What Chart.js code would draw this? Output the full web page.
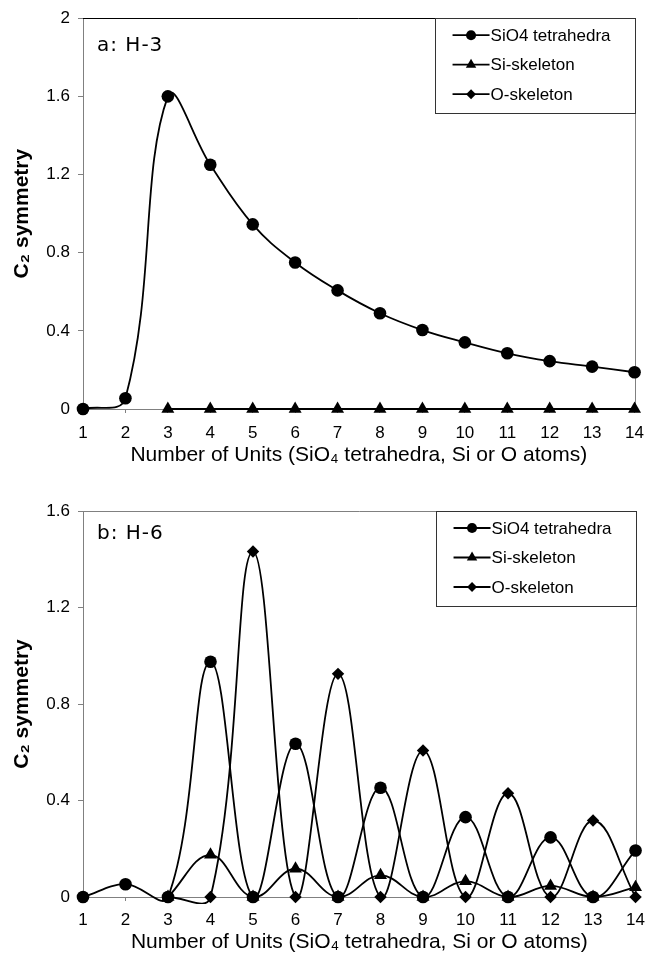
<!DOCTYPE html>
<html><head><meta charset="utf-8">
<script src="https://cdn.jsdelivr.net/npm/chart.js@4/dist/chart.umd.min.js"></script>
<style>html,body{margin:0;padding:0;background:#fff;} canvas{display:block;}</style>
</head><body>
<canvas id="ca" width="654" height="470"></canvas>
<canvas id="cb" width="654" height="484"></canvas>
<script>
// ---- data ----
const units = ['1','2','3','4','5','6','7','8','9','10','11','12','13','14'];
const seriesNames = ['SiO4 tetrahedra', 'Si-skeleton', 'O-skeleton'];
const panelA = 'a: H-3';
const panelB = 'b: H-6';
const h3SiO4 = [0, 0.055, 1.60, 1.25, 0.945, 0.75, 0.607, 0.49, 0.404, 0.341, 0.285, 0.245, 0.217, 0.188];
const h3Si   = [null, null, 0, 0, 0, 0, 0, 0, 0, 0, 0, 0, 0, 0];
const h3O    = [null, null, null, null, null, null, null, null, null, null, null, null, null, null];
const h6SiO4 = [0, 0.053, 0, 0.975, 0, 0.635, 0, 0.453, 0, 0.331, 0, 0.247, 0, 0.193];
const h6Si   = [null, null, 0, 0.175, 0, 0.117, 0, 0.09, 0, 0.065, 0, 0.046, 0, 0.04];
const h6O    = [null, null, 0, 0, 1.432, 0, 0.925, 0, 0.607, 0, 0.43, 0, 0.317, 0];
const yTicksA = [0, 0.4, 0.8, 1.2, 1.6, 2];
const yTicksB = [0, 0.4, 0.8, 1.2, 1.6];
const xTitle = 'Number of Units (SiO\u2084 tetrahedra, Si or O atoms)';
const yTitle = 'C\u2082 symmetry';

// ---- styling ----
const FONT = "'Liberation Sans', Arial, sans-serif";
const styles = [
  {pointStyle: 'circle', pointRadius: 6.3},
  {pointStyle: 'triangle', pointRadius: 7.5},
  {pointStyle: 'rectRot', pointRadius: 6.2}
];

function makeDatasets(arrs) {
  return arrs.map((d, i) => ({
    label: seriesNames[i],
    data: d,
    borderColor: '#000',
    backgroundColor: '#000',
    borderWidth: 1.8,
    pointBackgroundColor: '#000',
    pointBorderColor: '#000',
    pointBorderWidth: 0,
    pointStyle: styles[i].pointStyle,
    pointRadius: styles[i].pointRadius,
    tension: 0.4,
    capBezierPoints: false,
    spanGaps: false,
    clip: {left: 8, top: 8, right: 8, bottom: 7}
  }));
}

const decor = {
  id: 'decor',
  beforeDatasetsDraw(chart, args, opts) {
    const ctx = chart.ctx, a = chart.chartArea;
    ctx.save();
    ctx.lineWidth = 1;
    ctx.strokeStyle = opts.topColor || '#808080';
    ctx.beginPath();
    ctx.moveTo(a.left, Math.round(a.top) + 0.5);
    ctx.lineTo(a.right, Math.round(a.top) + 0.5);
    ctx.stroke();
    ctx.strokeStyle = '#808080';
    ctx.beginPath();
    ctx.moveTo(Math.round(a.right) + 0.5, a.top);
    ctx.lineTo(Math.round(a.right) + 0.5, a.bottom);
    ctx.stroke();
    // panel label
    ctx.fillStyle = '#000';
    ctx.font = "20px 'DejaVu Sans', Verdana, sans-serif";
    try { ctx.letterSpacing = '1px'; } catch (e) {}
    ctx.textBaseline = 'alphabetic';
    ctx.textAlign = 'left';
    ctx.fillText(opts.label, a.left + 14, a.top + opts.labelDy);
    ctx.restore();
  },
  afterDraw(chart, args, opts) {
    const ctx = chart.ctx, a = chart.chartArea;
    const w = 200, h = 95;
    const x0 = Math.round(a.right - w) + 0.5, y0 = Math.round(a.top) + 0.5;
    ctx.save();
    ctx.fillStyle = '#fff';
    ctx.fillRect(x0, y0, w, h);
    ctx.strokeStyle = '#333';
    ctx.lineWidth = 1;
    ctx.strokeRect(x0, y0, w, h);
    chart.data.datasets.forEach((ds, i) => {
      const y = a.top + 17 + i * 29.5;
      ctx.strokeStyle = '#000';
      ctx.lineWidth = 1.8;
      ctx.beginPath();
      ctx.moveTo(a.right - 182, y);
      ctx.lineTo(a.right - 145, y);
      ctx.stroke();
      ctx.fillStyle = '#000';
      Chart.helpers.drawPoint(ctx, {pointStyle: ds.pointStyle, radius: ds.pointRadius * 0.8, rotation: 0, borderWidth: 0}, a.right - 163.5, y);
      ctx.font = '17px ' + FONT;
      ctx.textBaseline = 'middle';
      ctx.textAlign = 'left';
      ctx.fillText(ds.label, a.right - 144, y + 1);
    });
    ctx.restore();
  }
};

function makeChart(id, arrs, yTicks, yMax, cfg) {
  return new Chart(document.getElementById(id), {
    type: 'line',
    data: {labels: units, datasets: makeDatasets(arrs)},
    plugins: [decor],
    options: {
      responsive: false,
      animation: false,
      events: [],
      layout: {padding: {left: 0, right: cfg.padRight, top: cfg.padTop, bottom: 0}},
      plugins: {
        legend: {display: false},
        tooltip: {enabled: false},
        decor: {label: cfg.label, labelDy: cfg.labelDy, topColor: cfg.topColor}
      },
      scales: {
        x: {
          type: 'category',
          offset: false,
          grid: {display: true, drawOnChartArea: false, drawTicks: true, tickLength: 4, color: '#808080'},
          border: {display: true, color: '#808080', width: 1},
          ticks: {color: '#000', font: {family: FONT, size: 17}, padding: cfg.xPad, maxRotation: 0, autoSkip: false},
          title: {display: true, text: xTitle, color: '#000', font: {family: FONT, size: 21, lineHeight: 1}, padding: {top: 0, bottom: cfg.xTitlePad}},
          afterFit: s => { s.height = cfg.xHeight; }
        },
        y: {
          type: 'linear',
          min: 0, max: yMax,
          afterBuildTicks: s => { s.ticks = yTicks.map(v => ({value: v})); },
          grid: {display: true, drawOnChartArea: false, drawTicks: true, tickLength: 5, color: '#808080'},
          border: {display: true, color: '#808080', width: 1},
          ticks: {color: '#000', font: {family: FONT, size: 17}, padding: 8, callback: v => String(+Number(v).toFixed(1))},
          title: {display: true, text: yTitle, color: '#000', font: {family: FONT, size: 21, weight: 'bold', lineHeight: 1}, padding: {top: 12, bottom: 0}},
          afterFit: s => { s.width = 83; }
        }
      }
    }
  });
}

makeChart('ca', [h3SiO4, h3Si, h3O], yTicksA, 2,
  {label: panelA, labelDy: 33, topColor: '#000', padRight: 10, padTop: 18, xHeight: 61, xPad: 10, xTitlePad: 4});
makeChart('cb', [h6SiO4, h6Si, h6O], yTicksB, 1.6,
  {label: panelB, labelDy: 28, topColor: '#808080', padRight: 11, padTop: 41, xHeight: 57, xPad: 9, xTitlePad: 1});
</script>
</body></html>
